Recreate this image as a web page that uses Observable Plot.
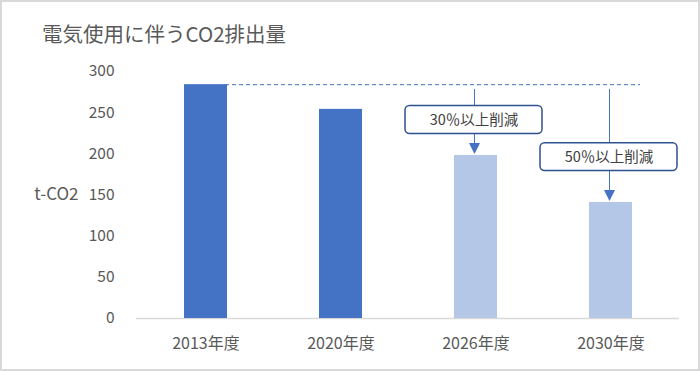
<!DOCTYPE html>
<html>
<head>
<meta charset="utf-8">
<script src="https://cdn.jsdelivr.net/npm/d3@7"></script>
<script src="https://cdn.jsdelivr.net/npm/@observablehq/plot@0.6"></script>
<style>
  html, body { margin: 0; padding: 0; background: #fff; }
  #wrap { position: relative; width: 700px; height: 371px; overflow: hidden; }
  #frame { position: absolute; left: 0; top: 0; width: 700px; height: 371px; box-sizing: border-box;
           border: 2px solid #d9d9d9; pointer-events: none; }
  #title { position: absolute; left: 42px; top: 23px; font-family: 'Noto Sans CJK JP', sans-serif;
           font-size: 20.5px; line-height: 1; color: #595959; white-space: nowrap; }
  #chart { position: absolute; left: 0; top: 0; }
</style>
</head>
<body>
<div id="wrap">
  <div id="chart"></div>
  <div id="title">電気使用に伴うCO2排出量</div>
  <div id="frame"></div>
</div>
<script>
// ---- data ----
const years = ["2013年度", "2020年度", "2026年度", "2030年度"];
const emissions = [284, 254, 198, 141];
const kinds = ["実績", "実績", "目標", "目標"];
const yTicks = [0, 50, 100, 150, 200, 250, 300];
const yLabel = "t-CO2";
const noteYears = ["2026年度", "2030年度"];
const noteTexts = ["30％以上削減", "50％以上削減"];

const data = years.map((year, i) => ({ year, value: emissions[i], kind: kinds[i] }));
const baseline = emissions[0];

// arrowhead pointing down with tip at the anchor point
const arrowHead = {
  draw(ctx, size) {
    const r = Math.sqrt(size / Math.PI);
    ctx.moveTo(0, 0);
    ctx.lineTo(-r, -2 * r);
    ctx.lineTo(r, -2 * r);
    ctx.closePath();
  }
};

// box centres (in data units) for each note
const boxCenter = [241, 196];

const noteMarks = noteYears.flatMap((yr, i) => {
  const target = emissions[years.indexOf(yr)];
  const c = boxCenter[i];
  return [
    Plot.ruleX([yr], { x: d => d, y1: baseline - 6, y2: target + 3, stroke: "#4472C4", strokeWidth: 1, dx: -1.5 }),
    Plot.barY([yr], { x: d => d, y1: c - 17, y2: c + 17, fill: "#fff", stroke: "#2F528F", strokeWidth: 1.5,
                      rx: 4.5, insetLeft: -47, insetRight: -47, dx: -2 }),
    Plot.text([noteTexts[i]], { x: () => yr, y: c, text: d => d, fontSize: 14.5, fill: "#404040", dx: -2 }),
    Plot.dot([yr], { x: d => d, y: target, symbol: arrowHead, r: 5.5, fill: "#4472C4", stroke: null, dx: -1.5, dy: -1.5 })
  ];
});

const chart = Plot.plot({
  width: 700,
  height: 371,
  marginTop: 71,
  marginBottom: 53,
  marginLeft: 136,
  marginRight: 21,
  style: { fontFamily: "'Noto Sans CJK JP', sans-serif", background: "transparent", color: "#595959" },
  x: { domain: years, paddingInner: 0.685, paddingOuter: 0.3425, label: null, axis: null },
  y: { domain: [0, 300], label: null, axis: null },
  color: { domain: ["実績", "目標"], range: ["#4472C4", "#B4C7E7"] },
  marks: [
    Plot.axisY({ ticks: yTicks, tickSize: 0, tickPadding: 22, fontSize: 15.5, fill: "#595959", label: null }),
    Plot.axisX({ tickSize: 0, tickPadding: 19, fontSize: 16, fill: "#595959", label: null }),
    Plot.text([yLabel], { frameAnchor: "left", dx: -58, textAnchor: "end", fontSize: 17, fill: "#595959" }),
    Plot.ruleY([0], { stroke: "#d9d9d9", strokeWidth: 1.5 }),
    Plot.barY(data, { x: "year", y: "value", fill: "kind" }),
    Plot.ruleY([baseline], { stroke: "#4472C4", strokeWidth: 1, strokeDasharray: "4,3", insetLeft: 89, insetRight: 39 }),
    ...noteMarks
  ]
});
document.getElementById("chart").appendChild(chart);
</script>
</body>
</html>
